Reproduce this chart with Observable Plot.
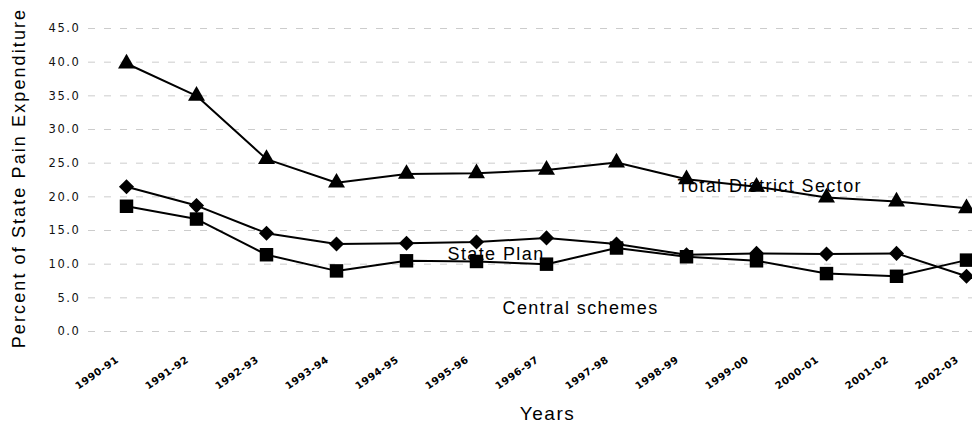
<!DOCTYPE html>
<html><head><meta charset="utf-8">
<script src="https://cdn.jsdelivr.net/npm/d3@7"></script>
<script src="https://cdn.jsdelivr.net/npm/@observablehq/plot@0.6"></script>
<style>
body{margin:0;background:#fff}
g[aria-description="ytitle"] text{letter-spacing:2.1px}
g[aria-description="annot"] text{letter-spacing:1.4px}
g[aria-description="xtitle"] text{letter-spacing:1.5px}
g[aria-label="x-axis tick label"] text{letter-spacing:0.6px}
g[aria-label="y-axis tick label"] text{font-size:11.5px;letter-spacing:1.6px}
</style></head><body><div id="chart"></div>
<script>
const years = ["1990-91","1991-92","1992-93","1993-94","1994-95","1995-96","1996-97","1997-98","1998-99","1999-00","2000-01","2001-02","2002-03"];
const totalDistrict = [39.8,35.0,25.6,22.1,23.4,23.5,24.0,25.1,22.6,21.5,19.9,19.3,18.3];
const statePlan = [21.5,18.7,14.6,13.0,13.1,13.3,13.9,13.0,11.4,11.6,11.5,11.6,8.2];
const centralSchemes = [18.6,16.7,11.4,9.0,10.5,10.4,10.0,12.4,11.1,10.5,8.6,8.2,10.6];
const yTicks = [0,5,10,15,20,25,30,35,40,45];
const seriesNames = ["Total District Sector","State Plan","Central schemes"];
const annotYears = ["1998-99","1995-96","1996-97"];
const annotValues = [21.5,11.5,3.4];
const yTitle = "Percent of State Pain Expenditure";
const xTitle = "Years";

const seriesValues = [totalDistrict, statePlan, centralSchemes];
const rows = seriesNames.flatMap((s, k) => years.map((y, i) => ({series: s, year: y, value: seriesValues[k][i]})));
const annots = seriesNames.map((s, k) => ({label: s, year: annotYears[k], value: annotValues[k]}));
const bySeries = s => rows.filter(d => d.series === s);
const fmt = d => d.toFixed(1);

const chart = Plot.plot({
  width: 972, height: 423,
  marginLeft: 88, marginRight: 0, marginTop: 28, marginBottom: 92,
  style: {fontFamily: "Liberation Sans, Arial, sans-serif", background: "#fff"},
  x: {type: "point", domain: years, range: [124, 968], padding: 0, label: null},
  y: {domain: [0, 45], label: null},
  marks: [
    Plot.ruleY(yTicks, {stroke: "#cccccc", strokeWidth: 1, strokeDasharray: "7,9"}),
    Plot.axisY(yTicks, {tickSize: 0, tickPadding: 8, fontSize: 11.5, fontFamily: "DejaVu Sans", tickFormat: fmt, label: null, fill: "#111"}),
    Plot.axisX({tickSize: 0, tickRotate: -35, tickPadding: 27, dx: -9, fontSize: 10, fontWeight: "bold", fontFamily: "DejaVu Sans", label: null}),
    Plot.line(rows, {x: "year", y: "value", z: "series", stroke: "black", strokeWidth: 2}),
    Plot.dot(bySeries(seriesNames[0]), {x: "year", y: "value", symbol: "triangle", r: 6.3, fill: "black", stroke: "none"}),
    Plot.dot(bySeries(seriesNames[1]), {x: "year", y: "value", symbol: "diamond2", r: 6.8, fill: "black", stroke: "none"}),
    Plot.dot(bySeries(seriesNames[2]), {x: "year", y: "value", symbol: "square", r: 7.6, fill: "black", stroke: "none"}),
    Plot.text([annots[0]], {x: "year", y: "value", text: "label", textAnchor: "start", dx: -9, fontSize: 18, fill: "black", ariaDescription: "annot"}),
    Plot.text([annots[1]], {x: "year", y: "value", text: "label", textAnchor: "start", dx: -29, fontSize: 18, fill: "black", ariaDescription: "annot"}),
    Plot.text([annots[2]], {x: "year", y: "value", text: "label", textAnchor: "start", dx: -44, fontSize: 18, fill: "black", ariaDescription: "annot"}),
    Plot.text([yTitle], {frameAnchor: "left", textAnchor: "middle", rotate: -90, dx: -69, dy: -2, fontSize: 18, fill: "black", ariaDescription: "ytitle"}),
    Plot.text([xTitle], {frameAnchor: "bottom", textAnchor: "middle", lineAnchor: "bottom", dx: 17, dy: 88, fontSize: 19, fill: "black", ariaDescription: "xtitle"})
  ]
});
document.getElementById("chart").appendChild(chart);
</script></body></html>
